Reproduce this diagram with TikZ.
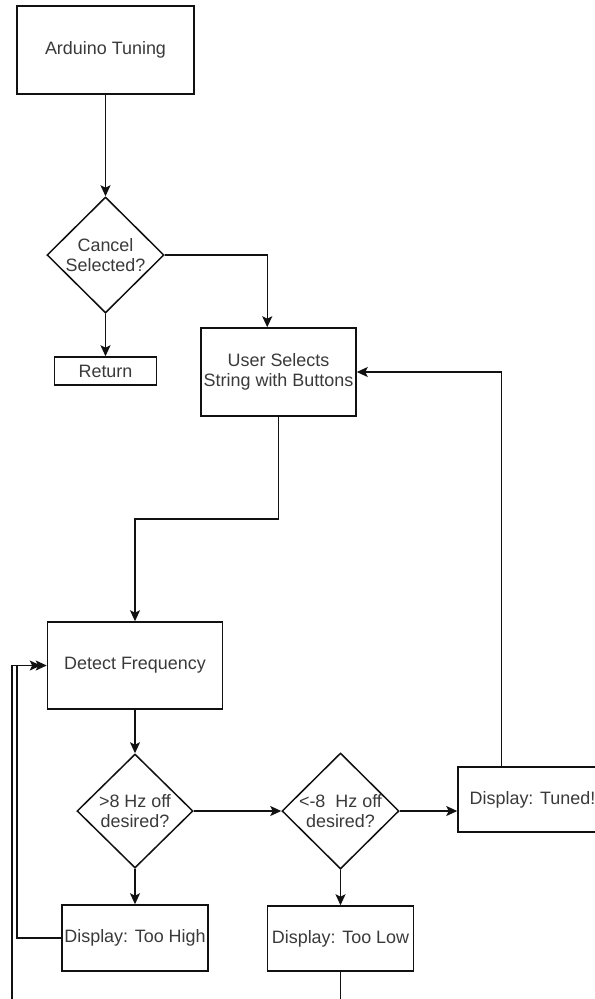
\documentclass[tikz,border=0pt]{standalone}
\usepackage{fontspec}
\setmainfont{Liberation Sans}
\usetikzlibrary{shapes.geometric,arrows.meta,calc}
\definecolor{txt}{HTML}{3A3A3A}
\definecolor{ln}{HTML}{111111}
\begin{document}
\begin{tikzpicture}[x=1bp,y=-1bp,
  every node/.style={font=\fontsize{18}{20.5}\selectfont, text=txt},
  lbl/.style={align=center, font=\fontsize{18}{20.5}\selectfont, text=txt},
  box/.style={draw=ln, line width=1.5bp, rectangle, inner sep=0pt, align=center},
  dia/.style={draw=ln, line width=1.5bp, diamond, inner sep=0pt},
  arr/.style={draw=ln, line width=1.5bp, -{Stealth[length=11bp,width=10bp,inset=2.5bp]}},
  ln/.style={draw=ln, line width=1.5bp}]
\useasboundingbox (0,0) rectangle (595,999);
\clip (0,0) rectangle (595,999);
\fill[white] (0,0) rectangle (595,999);

\node[box, minimum width=177bp, minimum height=88bp] (ard) at (105.5,50) {Arduino Tuning};
\node[dia, minimum width=117bp, minimum height=116bp, label={[lbl]center:Cancel\\Selected?}] (cancel) at (105.5,255) {};
\node[box, minimum width=102bp, minimum height=28bp] (ret) at (105.5,371) {Return};
\node[box, minimum width=155bp, minimum height=88bp] (user) at (278.5,372) {User Selects\\String with Buttons};
\node[box, minimum width=175bp, minimum height=87bp] (detect) at (135,665.5) {Detect Frequency};
\node[dia, minimum width=116bp, minimum height=114bp, label={[lbl]center:\textgreater8 Hz off\\desired?}] (d1) at (135,811) {};
\node[box, minimum width=146bp, minimum height=66bp] (high) at (135,938) {Display: Too High};
\node[dia, minimum width=117bp, minimum height=116bp, label={[lbl]center:\textless-8\ \ Hz off\\desired?}] (d2) at (340.5,811) {};
\node[box, minimum width=146bp, minimum height=65bp] (low) at (340.5,938.5) {Display: Too Low};
\node[box, minimum width=149bp, minimum height=65bp] (tuned) at (532.5,799.5) {Display: Tuned!};

\coordinate (bl) at (12,1010);
\coordinate (il) at (17,940);

\draw[arr] (ard) -- (cancel);
\draw[arr] (cancel) -- (ret);
\draw[arr] (cancel.east) -| ($(user.north west)+(67,0)$);
\draw[arr] (user.south) -- ++(0,102) -| (detect.north);
\draw[arr] (detect) -- (d1);
\draw[arr] (d1) -- (high);
\draw[arr] (d1.east) -- (d2.west);
\draw[arr] (d2) -- (low);
\draw[arr] (d2.east) -- (d2.east -| tuned.west);
\draw[arr] ($(tuned.north west)+(44,0)$) |- (user.east);
\draw[arr] (high.west) -- (high.west -| il) |- (detect.west);
\draw[arr, shorten >=6bp] (low.south) |- (bl) |- (detect.west);
\end{tikzpicture}
\end{document}
